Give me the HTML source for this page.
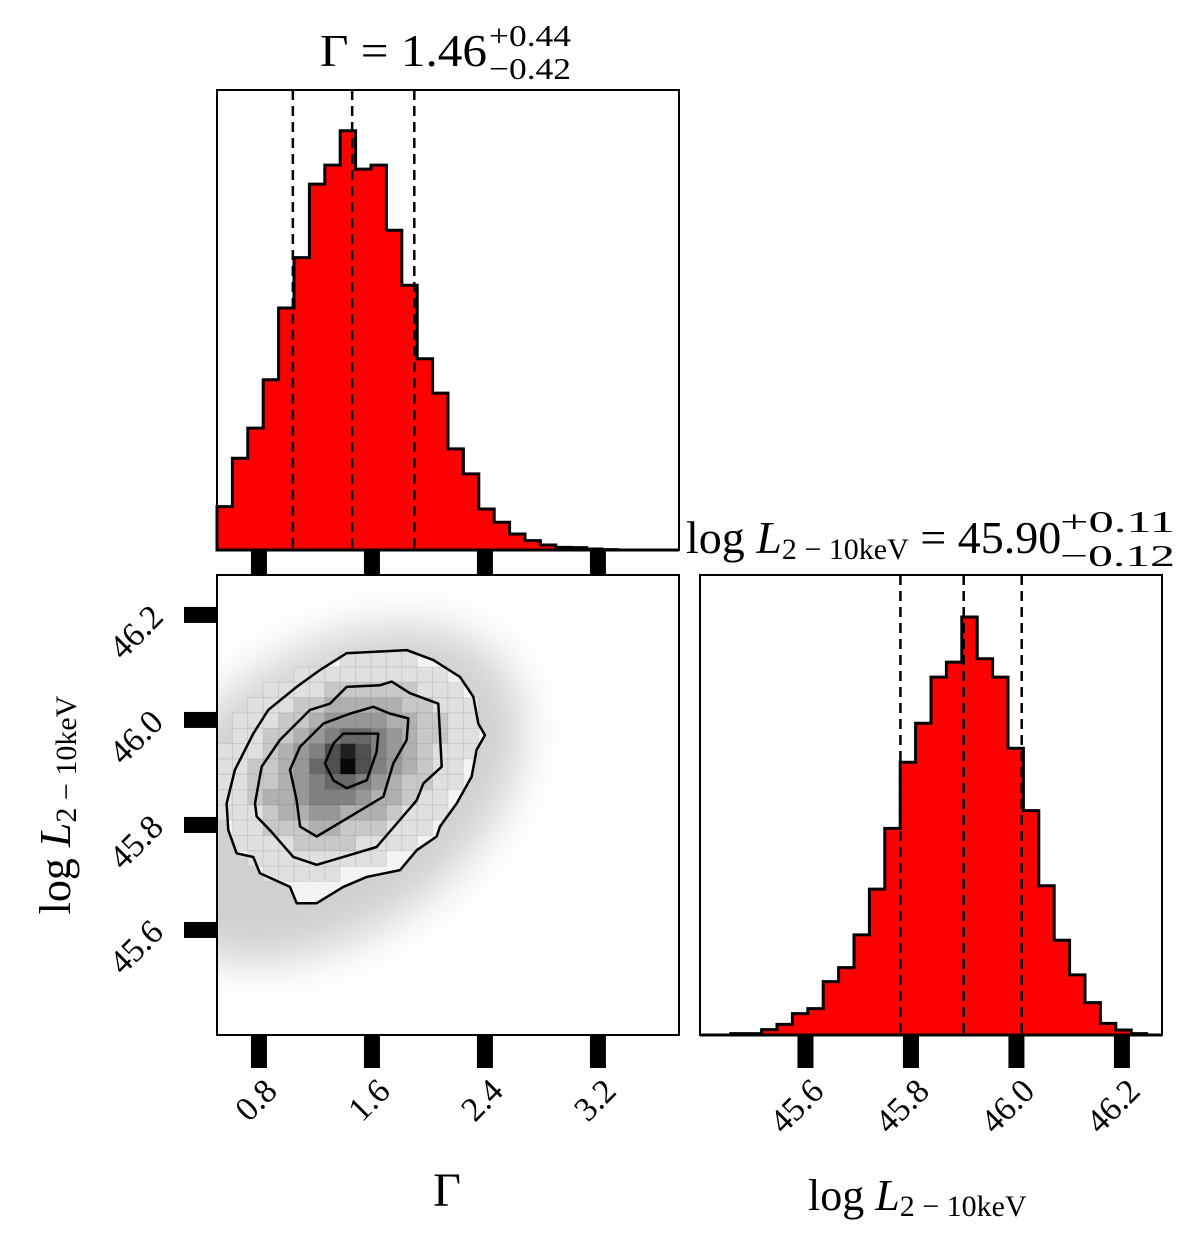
<!DOCTYPE html>
<html><head><meta charset="utf-8"><style>
html,body{margin:0;padding:0;background:#fff}
svg{display:block}
text{font-family:"Liberation Serif","DejaVu Serif",serif;fill:#000}
</style></head><body>
<svg id="chart" width="1200" height="1251" viewBox="0 0 1200 1251" xmlns="http://www.w3.org/2000/svg">
<defs>
<filter id="blur" x="-50%" y="-50%" width="200%" height="200%"><feGaussianBlur stdDeviation="22"/></filter>
<clipPath id="clip2d"><rect x="217" y="575" width="462" height="460"/></clipPath>
</defs>
<g id="layer"></g>
</svg>
<script>
// ---- data ----
const gammaCounts = [130,275,365,510,725,876,1096,1153,1256,1141,1153,958,793,573,470,303,228,123,83,48,28,15,8,7,3,1,0,0,0,0];
const gammaRange = [0.503, 3.774];
const gammaQuantiles = [1.04, 1.46, 1.90];
const gammaTicks = [0.8, 1.6, 2.4, 3.2];
const gammaTickLabels = ["0.8","1.6","2.4","3.2"];
const lumCounts = [0,0,4,4,16,32,64,79,160,202,300,437,619,817,934,1072,1117,1252,1127,1072,859,672,447,284,180,97,35,15,4,0];
const lumRange = [45.40, 46.276];
const lumQuantiles = [45.78, 45.90, 46.01];
const lumTicks = [45.6, 45.8, 46.0, 46.2];
const lumTickLabels = ["45.6","45.8","46.0","46.2"];
const histMax = 1378;
const densRowStart = 5;
const density2d = [
 [0,0,0,0,0,0,0,0,1,1,1,1,1,0,0,0,0,0],
 [0,0,0,0,0,1,1,1,1,1,1,1,1,1,1,0,0,0],
 [0,0,0,1,1,1,1,2,2,2,2,2,2,1,1,1,0,0],
 [0,0,1,1,1,2,2,3,3,3,3,3,2,2,1,1,1,0],
 [0,1,1,1,2,2,3,4,4,4,4,3,3,2,2,1,1,0],
 [0,1,1,2,2,3,4,5,6,6,5,4,3,2,2,1,1,0],
 [1,1,1,2,3,4,5,7,9,7,5,4,3,2,1,1,1,0],
 [1,1,2,2,3,4,6,7,10,7,5,4,3,2,1,1,0,0],
 [1,1,2,2,3,4,5,6,6,5,4,3,2,2,1,1,0,0],
 [1,1,2,3,3,4,5,5,5,4,3,3,2,1,1,0,0,0],
 [1,1,1,2,3,3,4,4,3,3,3,2,1,1,1,0,0,0],
 [0,1,1,2,2,2,3,3,2,2,2,1,1,1,0,0,0,0],
 [0,1,1,1,1,2,2,2,2,1,1,1,1,0,0,0,0,0],
 [0,0,1,1,1,1,1,1,1,1,1,0,0,0,0,0,0,0],
 [0,0,0,1,1,1,1,1,0,0,0,0,0,0,0,0,0,0]
];
const contourOuterG = [0.571,0.630,0.760,0.866,1.067,1.232,1.421,1.846,2.035,2.223,2.318,2.353,2.400,2.341,2.306,2.200,2.082,2.058,1.917,1.799,1.563,1.397,1.209,1.067,1.020,0.807,0.760,0.642,0.583];
const contourOuterL = [45.841,45.905,45.974,46.019,46.063,46.095,46.127,46.133,46.114,46.082,46.044,45.993,45.971,45.943,45.892,45.841,45.797,45.778,45.752,45.714,45.701,45.682,45.651,45.651,45.682,45.708,45.739,45.746,45.790];
const contour2G = [0.772,0.819,0.949,1.161,1.303,1.421,1.657,1.740,1.869,2.070,2.094,1.964,1.917,1.633,1.397,1.209,1.043,0.878,0.784];
const contour2L = [45.841,45.911,45.962,46.019,46.031,46.063,46.066,46.073,46.051,46.031,45.911,45.879,45.847,45.758,45.739,45.724,45.739,45.790,45.816];
const contour3G = [1.020,1.091,1.256,1.445,1.610,1.728,1.858,1.846,1.751,1.681,1.445,1.209,1.091,1.067];
const contour3L = [45.905,45.949,45.993,46.012,46.025,46.012,46.003,45.962,45.917,45.854,45.816,45.778,45.797,45.847];
const contour4G = [1.268,1.327,1.397,1.645,1.633,1.563,1.421,1.327];
const contour4L = [45.917,45.955,45.974,45.974,45.939,45.885,45.870,45.885];
const cloudCenter = [1.30, 45.86];

// ---- geometry ----
const NS = "http://www.w3.org/2000/svg";
const P1 = {x:217,y:90,w:462,h:460};
const P2 = {x:217,y:575,w:462,h:460};
const P3 = {x:700,y:575,w:462,h:460};
const layer = document.getElementById('layer');
function mk(tag, attrs, parent){const e=document.createElementNS(NS,tag);for(const k in attrs)e.setAttribute(k,attrs[k]);(parent||layer).appendChild(e);return e;}
const gx = (v,p)=> p.x + (v-gammaRange[0])/(gammaRange[1]-gammaRange[0])*p.w;
const lx = (v,p)=> p.x + (v-lumRange[0])/(lumRange[1]-lumRange[0])*p.w;
const ly = (v,p)=> p.y + p.h - (v-lumRange[0])/(lumRange[1]-lumRange[0])*p.h;
const hy = (c,p)=> p.y + p.h - c/histMax*p.h;

function hist(counts, xf, range, p, name){
  const n=counts.length, w=(range[1]-range[0])/n;
  let d=`M${xf(range[0],p)},${p.y+p.h}`;
  counts.forEach((c,i)=>{const x0=xf(range[0]+i*w,p),x1=xf(range[0]+(i+1)*w,p),y=hy(c,p);d+=` L${x0},${y} L${x1},${y}`;});
  d+=` L${xf(range[1],p)},${p.y+p.h} Z`;
  const e=mk('path',{d:d,fill:'#ff0000',stroke:'#000','stroke-width':3,'stroke-linejoin':'miter'});
  
  
}
function qlines(qs, xf, p, name){
  qs.forEach(q=>{const x=xf(q,p);const e=mk('line',{x1:x,x2:x,y1:p.y,y2:p.y+p.h,stroke:'#000','stroke-width':2.5,'stroke-dasharray':'10,6'});
  
  });
}
function frame(p,name){const e=mk('rect',{x:p.x,y:p.y,width:p.w,height:p.h,fill:'none',stroke:'#000','stroke-width':2});
  
  }
function xticks(ticks, labels, xf, p, withLabels, len){
  ticks.forEach((t,i)=>{const x=xf(t,p);
    const r=mk('rect',{x:x-8,y:p.y+p.h+1,width:16,height:len,fill:'#000'});
    
    
    if(withLabels){const tx=mk('text',{x:0,y:0,'font-size':34,'text-anchor':'end',transform:`translate(${x+20},${p.y+p.h+58}) rotate(-45)`});
      tx.textContent=labels[i];
      
      }
  });
}
function yticks(ticks, labels, yf, p){
  ticks.forEach((t,i)=>{const y=yf(t,p);
    const r=mk('rect',{x:p.x-33,y:y-8,width:32,height:16,fill:'#000'});
    
    
    const tx=mk('text',{x:0,y:0,'font-size':34,'text-anchor':'end',transform:`translate(${p.x-52},${y+4}) rotate(-45)`});
    tx.textContent=labels[i];
    
    
  });
}

hist(gammaCounts, gx, gammaRange, P1, 'gamma-histogram');
qlines(gammaQuantiles, gx, P1, 'gamma-quantile-line');
frame(P1,'gamma-hist-frame');
xticks(gammaTicks, gammaTickLabels, gx, P1, false, 23);

const g2 = mk('g',{'clip-path':'url(#clip2d)'});


const cx=gx(cloudCenter[0],P2), cy=ly(cloudCenter[1],P2);
const halo=mk('ellipse',{cx:cx,cy:cy,rx:215,ry:140,fill:'#aaa','fill-opacity':0.55,filter:'url(#blur)',transform:`rotate(-35 ${cx} ${cy})`},g2);


const nb=30, gw=(gammaRange[1]-gammaRange[0])/nb, lw=(lumRange[1]-lumRange[0])/nb;
function cpath(G,L){return G.map((g,i)=>(i?'L':'M')+gx(g,P2)+','+ly(L[i],P2)).join(' ')+' Z';}
const wbg=mk('path',{d:cpath(contourOuterG,contourOuterL),fill:'#f4f4f4',stroke:'none'},g2);


density2d.forEach((row,ri)=>{row.forEach((v,ci)=>{ if(v===0) return;
  const j=densRowStart+ri;
  const gLo=gammaRange[0]+ci*gw, lHi=lumRange[1]-j*lw;
  const x0=gx(gLo,P2), x1=gx(gLo+gw,P2), y0=ly(lHi,P2), y1=ly(lHi-lw,P2);
  const s=Math.round(248-v*24);
  const c=mk('rect',{x:x0,y:y0,width:x1-x0,height:y1-y0,fill:`rgb(${s},${s},${s})`,stroke:'rgba(0,0,0,0.07)','stroke-width':1},g2);
  
  
});});
[[contourOuterG,contourOuterL],[contour2G,contour2L],[contour3G,contour3L],[contour4G,contour4L]].forEach(([G,L])=>{
  const c=mk('path',{d:cpath(G,L),fill:'none',stroke:'#000','stroke-width':2.5,'stroke-linejoin':'round'},g2);
  
  
});
frame(P2,'joint-frame');
xticks(gammaTicks, gammaTickLabels, gx, P2, true, 32);
yticks(lumTicks, lumTickLabels, ly, P2);

hist(lumCounts, lx, lumRange, P3, 'luminosity-histogram');
qlines(lumQuantiles, lx, P3, 'luminosity-quantile-line');
frame(P3,'luminosity-hist-frame');
xticks(lumTicks, lumTickLabels, lx, P3, true, 32);
</script>
<svg style="position:absolute;left:0;top:0" width="1200" height="1251">
<g font-family="Liberation Serif, DejaVu Serif, serif">
<text x="320" y="66" font-size="46" textLength="167" lengthAdjust="spacingAndGlyphs">Γ = 1.46</text>
<text x="489" y="46" font-size="31" textLength="82" lengthAdjust="spacingAndGlyphs">+0.44</text>
<text x="489" y="79" font-size="31" textLength="82" lengthAdjust="spacingAndGlyphs">−0.42</text>
<text x="686" y="553" font-size="46"><tspan>log </tspan><tspan font-style="italic">L</tspan><tspan font-size="30" dy="6">2 − 10keV</tspan><tspan dy="-6"> = 45.90</tspan></text>
<text x="1060" y="532" font-size="31" textLength="115" lengthAdjust="spacingAndGlyphs">+0.11</text>
<text x="1060" y="566" font-size="31" textLength="115" lengthAdjust="spacingAndGlyphs">−0.12</text>
<text x="447" y="1206" font-size="48" text-anchor="middle">Γ</text>
<text x="808" y="1210" font-size="44"><tspan>log </tspan><tspan font-style="italic">L</tspan><tspan font-size="30" dy="6">2 − 10keV</tspan></text>
<text font-size="44" text-anchor="middle" transform="translate(70,805) rotate(-90)"><tspan>log </tspan><tspan font-style="italic">L</tspan><tspan font-size="30" dy="6">2 − 10keV</tspan></text>
</g>
</svg>
</body></html>
